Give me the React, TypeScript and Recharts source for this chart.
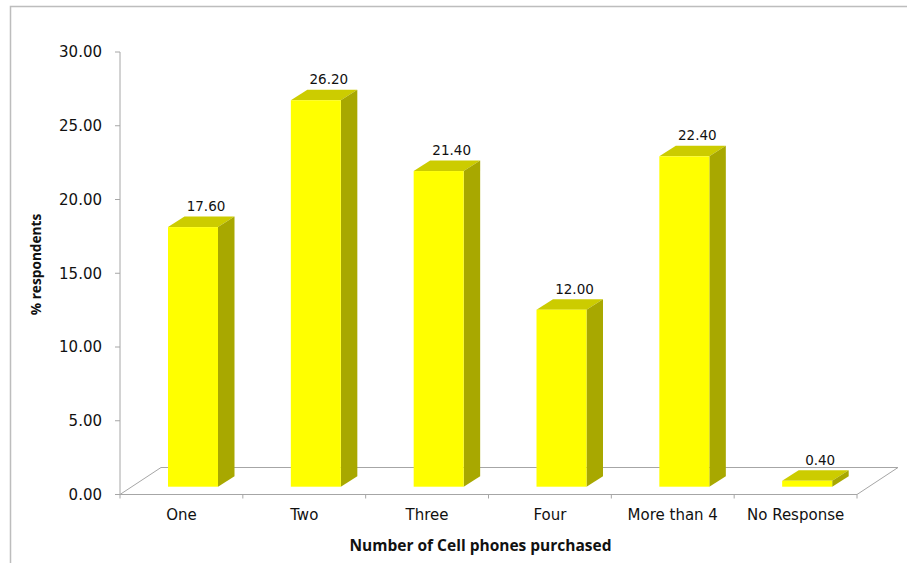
import { BarChart, Bar, XAxis, YAxis, LabelList } from "recharts"

const categories = ["One", "Two", "Three", "Four", "More than 4", "No Response"]
const respondents = [17.6, 26.2, 21.4, 12.0, 22.4, 0.4]
const yTicks = [0, 5, 10, 15, 20, 25, 30]

const WIDTH = 907
const HEIGHT = 563
const LEFT = 120
const RIGHT = 857
const TOP = 52
const BOTTOM = 494.5

// fake 3D offsets for the floor and the bar sides
const FLOOR_DX = 41
const FLOOR_DY = 27
const BAR_LIFT = 7.8
const BAR_SHIFT = 12
const DEPTH_X = 16.5
const DEPTH_Y = 10.5

const FONT = "'DejaVu Sans', sans-serif"
const TITLE_FONT = "'Open Sans', sans-serif"
const AXIS_COLOR = "#a6a6a6"
const BAND = (RIGHT - LEFT) / categories.length

const chartData = categories.map((name, i) => ({ name, value: respondents[i] }))

function Bar3D(props: any) {
  const { x, y, width, height } = props
  const fx = x + BAR_SHIFT
  const fy = y - BAR_LIFT
  const fr = fx + width
  const fb = fy + height
  return (
    <g>
      <polygon
        points={`${fx},${fy} ${fx + DEPTH_X},${fy - DEPTH_Y} ${fr + DEPTH_X},${fy - DEPTH_Y} ${fr},${fy}`}
        fill="#cccc00"
      />
      <polygon
        points={`${fr},${fy} ${fr + DEPTH_X},${fy - DEPTH_Y} ${fr + DEPTH_X},${fb - DEPTH_Y} ${fr},${fb}`}
        fill="#a8a800"
      />
      <rect x={fx} y={fy} width={width} height={height} fill="#ffff00" />
    </g>
  )
}

function BarValue(props: any) {
  const { x, y, width, value } = props
  return (
    <text
      x={x + width / 2 + BAR_SHIFT + 13}
      y={y - BAR_LIFT - 16}
      textAnchor="middle"
      fontFamily={FONT}
      fontSize={13.5}
      fill="#111"
    >
      {Number(value).toFixed(2)}
    </text>
  )
}

// category label with tick marks on the band edges instead of the band centre
function CategoryTick(props: any) {
  const { x, payload, index } = props
  const edge = x - BAND / 2
  return (
    <g>
      <line x1={edge} x2={edge} y1={BOTTOM} y2={BOTTOM + 4} stroke={AXIS_COLOR} />
      {index === categories.length - 1 && (
        <line x1={edge + BAND} x2={edge + BAND} y1={BOTTOM} y2={BOTTOM + 4} stroke={AXIS_COLOR} />
      )}
      <text x={x} y={520} textAnchor="middle" fontFamily={FONT} fontSize={15} fill="#111">
        {payload.value}
      </text>
    </g>
  )
}

// frame, floor outline and the back edge of the floor
function Backdrop() {
  return (
    <g fill="none" stroke={AXIS_COLOR} strokeWidth={1}>
      <polyline points="10.5,563 10.5,6.5 907,6.5" stroke="#bdbdbd" strokeWidth={1.5} />
      <polyline
        points={`${LEFT},${BOTTOM} ${LEFT + FLOOR_DX},${BOTTOM - FLOOR_DY} ${RIGHT + FLOOR_DX},${BOTTOM - FLOOR_DY} ${RIGHT},${BOTTOM}`}
      />
    </g>
  )
}

export default function App() {
  return (
    <div style={{ position: "absolute", left: 0, top: 0, width: WIDTH, height: HEIGHT, background: "#fff" }}>
      <BarChart
        width={WIDTH}
        height={HEIGHT}
        data={chartData}
        margin={{ top: TOP, right: WIDTH - RIGHT, bottom: 0, left: 0 }}
        barSize={50}
      >
        <Backdrop />
        <XAxis
          dataKey="name"
          interval={0}
          height={HEIGHT - BOTTOM}
          stroke={AXIS_COLOR}
          tickLine={false}
          tick={CategoryTick}
          label={{
            value: "Number of Cell phones purchased",
            position: "insideBottom",
            offset: 12,
            dx: -8,
            fontFamily: TITLE_FONT,
            fontSize: 15.5,
            fontWeight: 700,
            fill: "#111",
          }}
        />
        <YAxis
          domain={[0, 30]}
          ticks={yTicks}
          width={LEFT}
          stroke={AXIS_COLOR}
          tickSize={5}
          tickMargin={13}
          tickFormatter={(v: number) => v.toFixed(2)}
          tick={{ fontFamily: FONT, fontSize: 15, fill: "#111" }}
          label={{
            value: "% respondents",
            angle: -90,
            position: "insideLeft",
            offset: 36,
            dy: 42,
            fontFamily: TITLE_FONT,
            fontSize: 13.7,
            fontWeight: 700,
            fill: "#111",
          }}
        />
        <Bar dataKey="value" shape={Bar3D} isAnimationActive={false}>
          <LabelList dataKey="value" content={BarValue} />
        </Bar>
      </BarChart>
    </div>
  )
}
